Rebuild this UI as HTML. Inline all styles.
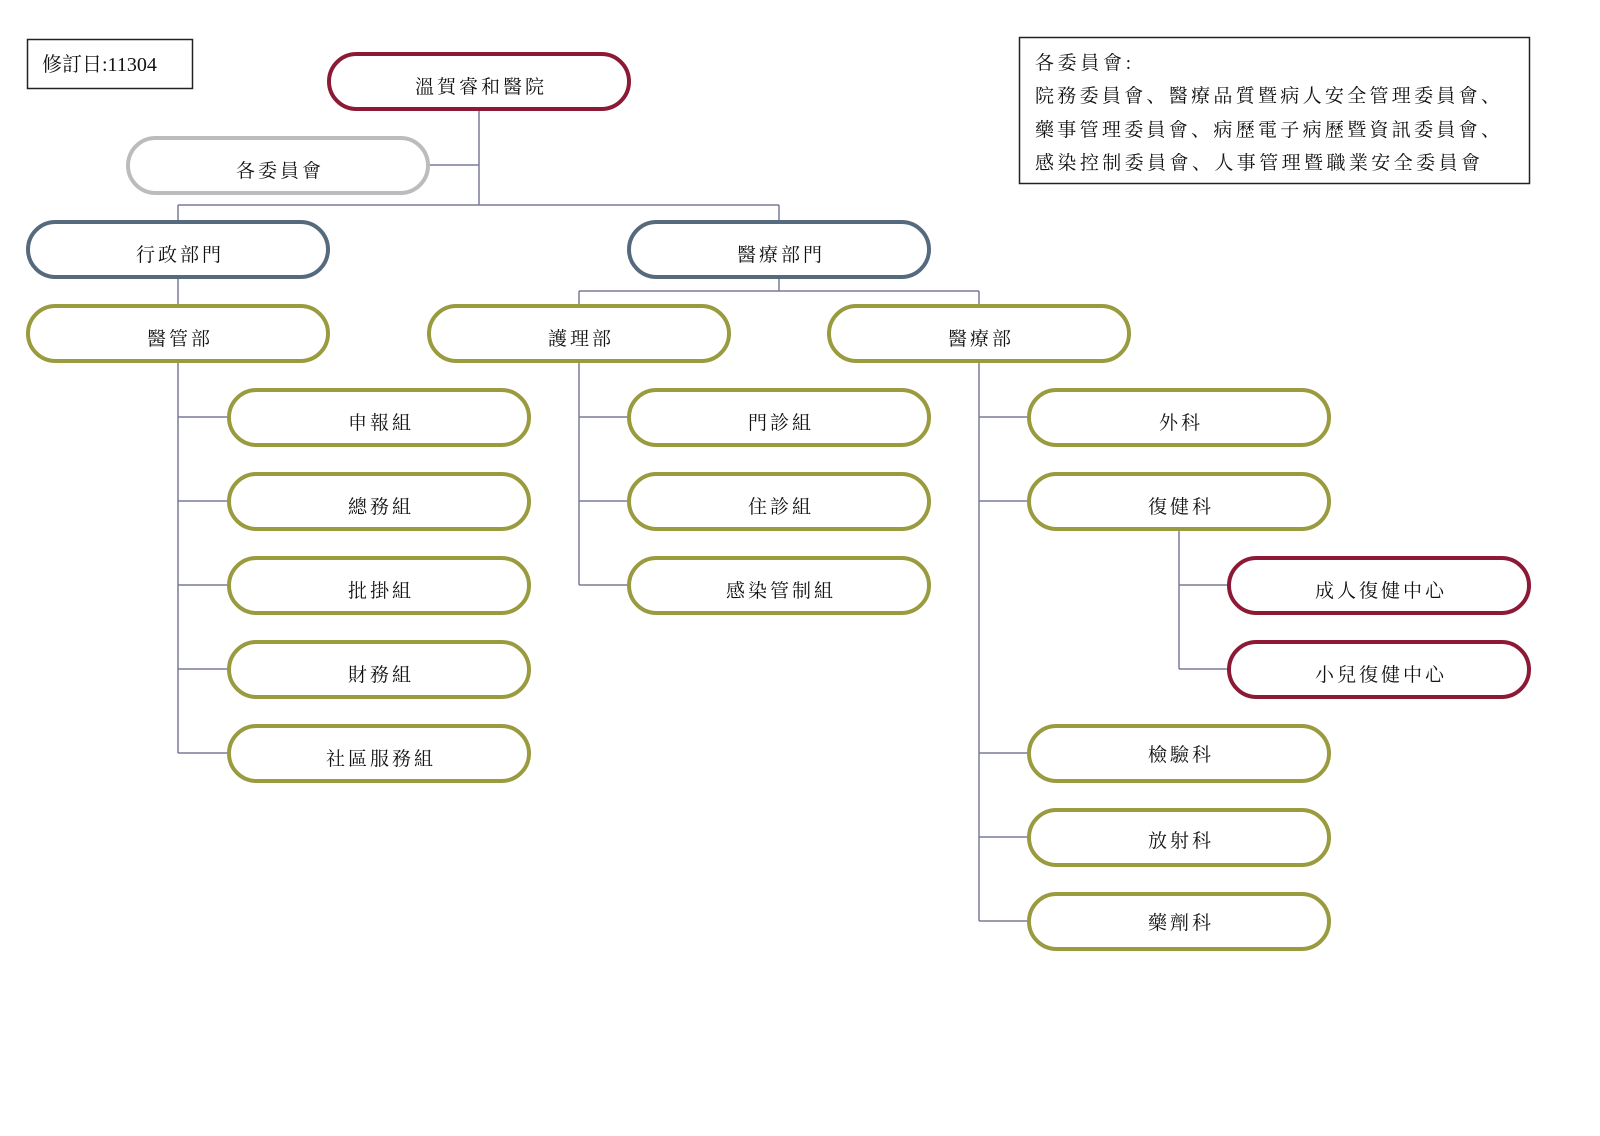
<!DOCTYPE html>
<html><head><meta charset="utf-8"><style>
html,body{margin:0;padding:0;background:#fff;}
svg text{font-family:"Liberation Serif","Noto Serif CJK SC","Noto Serif CJK TC",serif;fill:#111;}
</style></head><body>
<svg width="1600" height="1131" viewBox="0 0 1600 1131" xmlns="http://www.w3.org/2000/svg">
<rect x="27.5" y="39.5" width="165" height="49" fill="#fff" stroke="#222" stroke-width="1.5"/>
<text x="42" y="71" font-size="20">修訂日:11304</text>
<rect x="1019.5" y="37.5" width="510" height="146" fill="#fff" stroke="#222" stroke-width="1.5"/>
<text x="1035" y="69" font-size="19" textLength="96">各委員會:</text>
<text x="1035" y="102" font-size="19" textLength="465">院務委員會、醫療品質暨病人安全管理委員會、</text>
<text x="1035" y="136" font-size="19" textLength="465">藥事管理委員會、病歷電子病歷暨資訊委員會、</text>
<text x="1035" y="169" font-size="19" textLength="445">感染控制委員會、人事管理暨職業安全委員會</text>
<g stroke="#7a7a98" stroke-width="1.5" fill="none">
<path d="M479 109V205M429 165H479M178 205H779M178 205V221M779 205V221"/>
<path d="M178 277V305M779 277V291M579 291H979M579 291V305M979 291V305"/>
<path d="M178 361V753M178 417H228M178 501H228M178 585H228M178 669H228M178 753H228"/>
<path d="M579 361V585M579 417H628M579 501H628M579 585H628"/>
<path d="M979 361V921M979 417H1028M979 501H1028M979 753H1028M979 837H1028M979 921H1028"/>
<path d="M1179 529V669M1179 585H1228M1179 669H1228"/>
</g>
<g fill="#fff" stroke-width="4">
<rect x="329" y="54" width="300" height="55" rx="27.5" stroke="#8c1a36"/>
<rect x="128" y="138" width="300" height="55" rx="27.5" stroke="#bcbcbc"/>
<rect x="28" y="222" width="300" height="55" rx="27.5" stroke="#566a7e"/>
<rect x="629" y="222" width="300" height="55" rx="27.5" stroke="#566a7e"/>
<g stroke="#9a9a3e">
<rect x="28" y="306" width="300" height="55" rx="27.5"/>
<rect x="429" y="306" width="300" height="55" rx="27.5"/>
<rect x="829" y="306" width="300" height="55" rx="27.5"/>
<rect x="229" y="390" width="300" height="55" rx="27.5"/>
<rect x="229" y="474" width="300" height="55" rx="27.5"/>
<rect x="229" y="558" width="300" height="55" rx="27.5"/>
<rect x="229" y="642" width="300" height="55" rx="27.5"/>
<rect x="229" y="726" width="300" height="55" rx="27.5"/>
<rect x="629" y="390" width="300" height="55" rx="27.5"/>
<rect x="629" y="474" width="300" height="55" rx="27.5"/>
<rect x="629" y="558" width="300" height="55" rx="27.5"/>
<rect x="1029" y="390" width="300" height="55" rx="27.5"/>
<rect x="1029" y="474" width="300" height="55" rx="27.5"/>
<rect x="1029" y="726" width="300" height="55" rx="27.5"/>
<rect x="1029" y="810" width="300" height="55" rx="27.5"/>
<rect x="1029" y="894" width="300" height="55" rx="27.5"/>
</g>
<rect x="1229" y="558" width="300" height="55" rx="27.5" stroke="#8c1a36"/>
<rect x="1229" y="642" width="300" height="55" rx="27.5" stroke="#8c1a36"/>
</g>
<g font-size="19" text-anchor="middle" letter-spacing="3">
<text x="481" y="93">溫賀睿和醫院</text>
<text x="280" y="177">各委員會</text>
<text x="180" y="261">行政部門</text>
<text x="781" y="261">醫療部門</text>
<text x="180" y="345">醫管部</text>
<text x="581" y="345">護理部</text>
<text x="981" y="345">醫療部</text>
<text x="381" y="429">申報組</text>
<text x="381" y="513">總務組</text>
<text x="381" y="597">批掛組</text>
<text x="381" y="681">財務組</text>
<text x="381" y="765">社區服務組</text>
<text x="781" y="429">門診組</text>
<text x="781" y="513">住診組</text>
<text x="781" y="597">感染管制組</text>
<text x="1181" y="429">外科</text>
<text x="1181" y="513">復健科</text>
<text x="1381" y="597">成人復健中心</text>
<text x="1381" y="681">小兒復健中心</text>
<text x="1181" y="761">檢驗科</text>
<text x="1181" y="847">放射科</text>
<text x="1181" y="929">藥劑科</text>
</g>
</svg>
</body></html>
